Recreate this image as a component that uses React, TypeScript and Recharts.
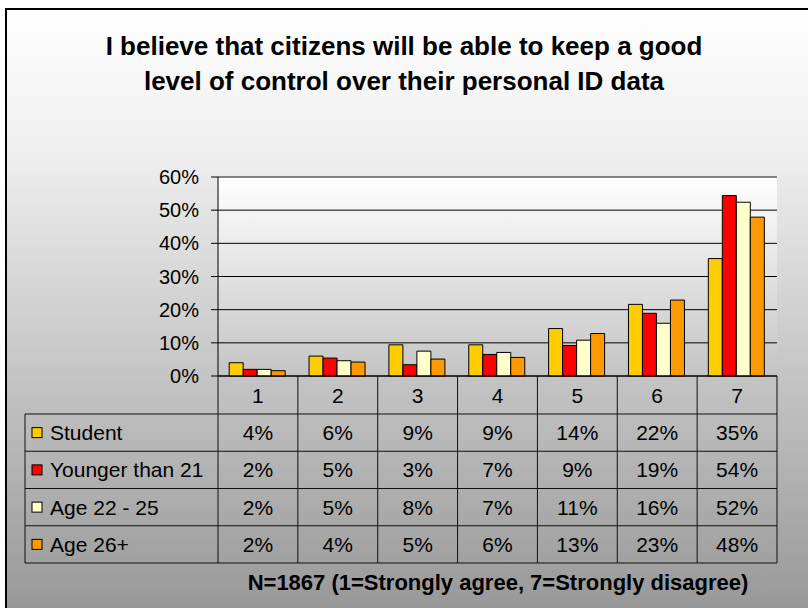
import React from "react";
import {
  BarChart,
  Bar,
  XAxis,
  YAxis,
  CartesianGrid,
  ReferenceLine,
} from "recharts";

const categories = ["1", "2", "3", "4", "5", "6", "7"];
const seriesNames = ["Student", "Younger than 21", "Age 22 - 25", "Age 26+"];
const seriesColors = ["#FFCC00", "#FF0000", "#FFFFCC", "#FF9900"];

const student = [4.0, 6.0, 9.4, 9.4, 14.3, 21.6, 35.4];
const youngerThan21 = [2.0, 5.4, 3.4, 6.5, 9.2, 18.9, 54.4];
const age22to25 = [2.0, 4.6, 7.5, 7.1, 10.8, 15.9, 52.4];
const age26plus = [1.6, 4.2, 5.1, 5.6, 12.8, 22.9, 47.9];

const yTicks = [0, 10, 20, 30, 40, 50, 60];

const titleLines = [
  "I believe that citizens will be able to keep a good",
  "level of control over their personal ID data",
];
const footnote = "N=1867 (1=Strongly agree, 7=Strongly disagree)";

const seriesValues = [student, youngerThan21, age22to25, age26plus];
const seriesKeys = ["s0", "s1", "s2", "s3"];

const data = categories.map((cat, i) => {
  const row: Record<string, string | number> = { cat };
  seriesKeys.forEach((k, s) => {
    row[k] = seriesValues[s][i];
  });
  return row;
});

const FONT = '"Liberation Sans", Arial, sans-serif';
const HEADER_H = 38;
const ROW_H = 37.25;
const LEGEND_W = 193;
const LINE = "#111";

// draws the category label plus its column of the data table
const TableTick = (props: any) => {
  const { x, y, index, width } = props;
  const w = width / categories.length;
  const left = x - w / 2;
  const bottom = y + HEADER_H + ROW_H * seriesNames.length;
  const isLast = index === categories.length - 1;

  const rowLines = [];
  for (let r = 0; r <= seriesNames.length; r++) {
    const ly = y + HEADER_H + r * ROW_H;
    rowLines.push(
      <line
        key={"h" + r}
        x1={index === 0 ? left - LEGEND_W : left}
        x2={left + w}
        y1={ly}
        y2={ly}
        stroke={LINE}
      />
    );
  }

  return (
    <g>
      <line x1={left} x2={left} y1={y} y2={bottom} stroke={LINE} />
      {isLast && (
        <line x1={left + w} x2={left + w} y1={y} y2={bottom} stroke={LINE} />
      )}
      {rowLines}
      <text
        x={x}
        y={y + HEADER_H / 2}
        textAnchor="middle"
        dominantBaseline="central"
        fontSize={21}
        fontFamily={FONT}
        fill="#000"
      >
        {categories[index]}
      </text>
      {seriesValues.map((vals, s) => (
        <text
          key={s}
          x={x}
          y={y + HEADER_H + (s + 0.5) * ROW_H}
          textAnchor="middle"
          dominantBaseline="central"
          fontSize={21}
          fontFamily={FONT}
          fill="#000"
        >
          {Math.round(vals[index])}%
        </text>
      ))}
      {index === 0 && (
        <g>
          <line
            x1={left - LEGEND_W}
            x2={left - LEGEND_W}
            y1={y + HEADER_H}
            y2={bottom}
            stroke={LINE}
          />
          {seriesNames.map((name, s) => {
            const cy = y + HEADER_H + (s + 0.5) * ROW_H;
            return (
              <g key={name}>
                <rect
                  x={left - LEGEND_W + 7}
                  y={cy - 5}
                  width={10}
                  height={10}
                  fill={seriesColors[s]}
                  stroke="#000"
                />
                <text
                  x={left - LEGEND_W + 25}
                  y={cy}
                  dominantBaseline="central"
                  fontSize={21}
                  fontFamily={FONT}
                  fill="#000"
                >
                  {name}
                </text>
              </g>
            );
          })}
        </g>
      )}
    </g>
  );
};

export default function App() {
  return (
    <div
      style={{
        position: "absolute",
        left: 0,
        top: 0,
        width: 808,
        height: 608,
        overflow: "hidden",
        fontFamily: FONT,
      }}
    >
      <div
        style={{
          position: "absolute",
          left: 5,
          top: 8,
          width: 840,
          height: 640,
          border: "2px solid #000",
          background:
            "linear-gradient(to bottom, #ffffff 0px, #ededed 151px, #989898 600px)",
        }}
      />
      <svg width={0} height={0} style={{ position: "absolute" }}>
        <defs>
          <linearGradient id="plotBg" x1="0" y1="0" x2="0" y2="1">
            <stop offset="0%" stopColor="#ffffff" />
            <stop offset="100%" stopColor="#c4c4c4" />
          </linearGradient>
        </defs>
      </svg>
      <div
        style={{
          position: "absolute",
          left: 0,
          width: 808,
          top: 29,
          textAlign: "center",
          fontWeight: "bold",
          fontSize: 26,
          lineHeight: "35px",
          color: "#000",
          whiteSpace: "nowrap",
        }}
      >
        {titleLines.map((t) => (
          <div key={t}>{t}</div>
        ))}
      </div>
      <div style={{ position: "absolute", left: 0, top: 0 }}>
        <BarChart
          width={808}
          height={608}
          data={data}
          margin={{ top: 177, right: 31, bottom: 0, left: 0 }}
          barCategoryGap="14%"
          barGap={0}
        >
          <CartesianGrid vertical={false} stroke="#000" fill="url(#plotBg)" />
          <XAxis
            dataKey="cat"
            height={232}
            interval={0}
            tickLine={false}
            tickSize={0}
            tickMargin={0}
            axisLine={{ stroke: "#000" }}
            tick={<TableTick />}
          />
          <YAxis
            width={218}
            domain={[0, 60]}
            ticks={yTicks}
            tickFormatter={(v: number) => `${v}%`}
            tickSize={7}
            tickMargin={12}
            tickLine={{ stroke: "#000" }}
            axisLine={{ stroke: "#000" }}
            tick={{ fill: "#000", fontSize: 20, fontFamily: FONT }}
          />
          <YAxis
            yAxisId="right"
            orientation="right"
            width={0}
            domain={[0, 60]}
            tick={false}
            tickLine={false}
            axisLine={{ stroke: "#8c8c8c" }}
          />
          <ReferenceLine y={60} stroke="#8c8c8c" />
          {seriesKeys.map((k, s) => (
            <Bar
              key={k}
              dataKey={k}
              name={seriesNames[s]}
              fill={seriesColors[s]}
              stroke="#000"
              strokeWidth={1}
              isAnimationActive={false}
            />
          ))}
        </BarChart>
      </div>
      <div
        style={{
          position: "absolute",
          left: 198,
          width: 600,
          top: 571,
          textAlign: "center",
          fontWeight: "bold",
          fontSize: 22,
          lineHeight: "24px",
          color: "#000",
          whiteSpace: "nowrap",
        }}
      >
        {footnote}
      </div>
    </div>
  );
}
